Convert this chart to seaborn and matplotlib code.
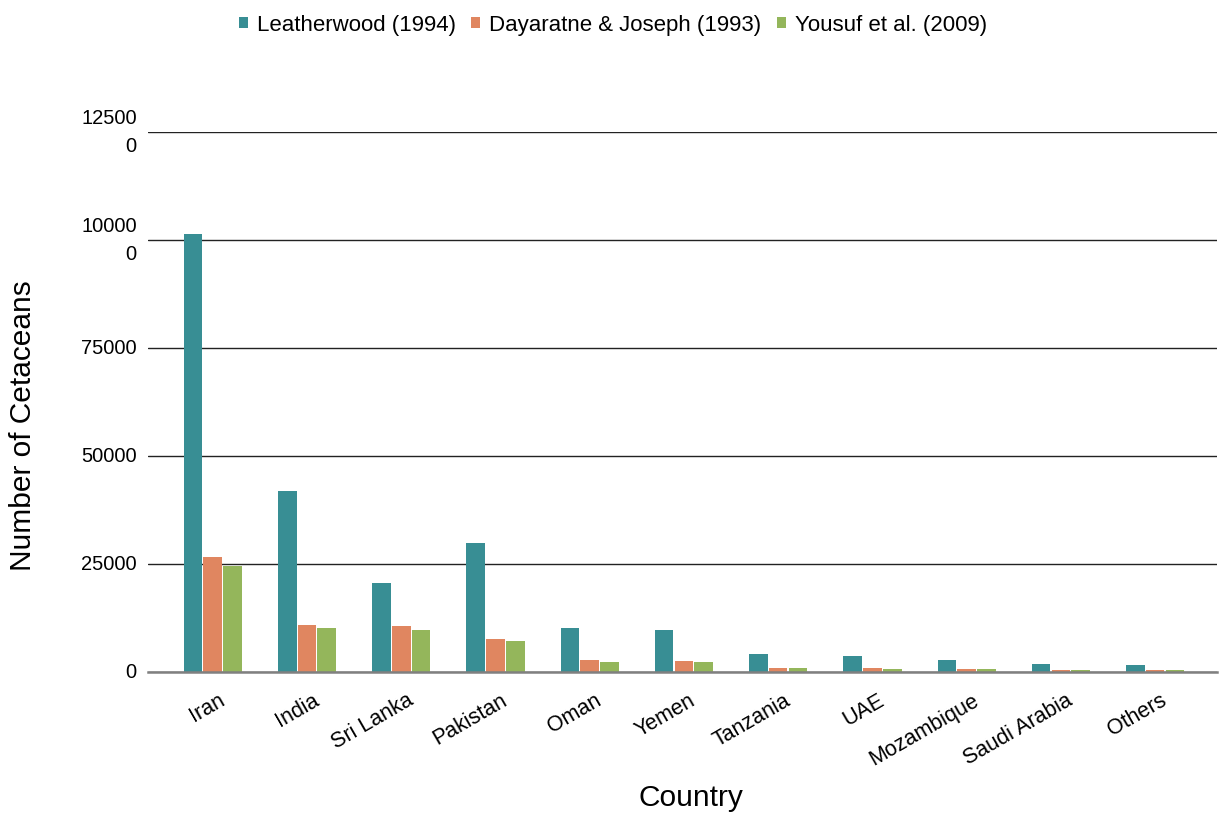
import matplotlib
matplotlib.use("Agg")
import matplotlib.pyplot as plt
from matplotlib.patches import Patch
from matplotlib.transforms import ScaledTranslation
import seaborn as sns
import pandas as pd

countries = ["Iran", "India", "Sri Lanka", "Pakistan", "Oman", "Yemen",
             "Tanzania", "UAE", "Mozambique", "Saudi Arabia", "Others"]
leatherwood = [101400, 41900, 20600, 29900, 10200, 9700, 4100, 3700, 2700, 1850, 1600]
dayaratne = [26700, 11000, 10600, 7600, 2700, 2500, 900, 900, 600, 450, 450]
yousuf = [24500, 10100, 9700, 7200, 2400, 2400, 900, 800, 600, 450, 450]
series = ["Leatherwood (1994)", "Dayaratne & Joseph (1993)", "Yousuf et al. (2009)"]
colors = ["#388E94", "#E08660", "#94B65B"]
yticks = [0, 25000, 50000, 75000, 100000, 125000]
ytick_labels = ["0", "25000", "50000", "75000", "10000\n0", "12500\n0"]

df = pd.DataFrame({
    "Country": countries * 3,
    "Value": leatherwood + dayaratne + yousuf,
    "Source": [series[0]] * 11 + [series[1]] * 11 + [series[2]] * 11,
})

sns.set_theme(style="white")
plt.rcParams["font.family"] = ["Liberation Sans", "DejaVu Sans"]
plt.rcParams["text.color"] = "black"
plt.rcParams["xtick.color"] = "black"
plt.rcParams["ytick.color"] = "black"
plt.rcParams["axes.labelcolor"] = "black"

fig = plt.figure(figsize=(12.21, 8.13), dpi=100)
ax = fig.add_axes([0.121, 0.1734, 0.876, 0.6642])

sns.barplot(data=df, x="Country", y="Value", hue="Source", order=countries,
            hue_order=series, palette=colors, width=0.63, gap=0.06, saturation=1,
            linewidth=0, legend=False, ax=ax)

ax.set_ylim(0, 125000)
ax.set_xlim(-0.69, len(countries) - 1 + 0.66)
ax.set_yticks(yticks)
ax.set_yticklabels(ytick_labels, fontsize=14.5, linespacing=1.6, va="center")
for lbl in ax.get_yticklabels():
    lbl.set_horizontalalignment("right")
ax.tick_params(axis="y", length=0, pad=8)
ax.tick_params(axis="x", length=0, pad=0)
ax.set_xticks(range(len(countries)))
ax.set_xticklabels(countries, rotation=30, ha="right", va="top",
                   rotation_mode="anchor", fontsize=15.5)
shift = ScaledTranslation(0.05, -0.18, fig.dpi_scale_trans)
for lbl in ax.get_xticklabels():
    lbl.set_transform(lbl.get_transform() + shift)

ax.yaxis.grid(True, color="#222222", linewidth=1)
ax.set_axisbelow(True)
for s in ["left", "right", "top"]:
    ax.spines[s].set_visible(False)
ax.spines["bottom"].set_color("#808080")
ax.spines["bottom"].set_linewidth(1.8)

ax.set_xlabel("Country", fontsize=21.5, va="top")
ax.xaxis.set_label_coords(0.508, -0.207)
ax.set_ylabel("Number of Cetaceans", fontsize=21.5)
ax.yaxis.set_label_coords(-0.104, 0.457)

handles = [Patch(facecolor=c, edgecolor="none") for c in colors]
fig.legend(handles, series, loc="center", bbox_to_anchor=(613 / 1221, 0.969),
           ncol=3, frameon=False, fontsize=16, handlelength=0.4, handleheight=0.4,
           handletextpad=0.4, columnspacing=0.7)

fig.savefig("out.png", dpi=100)
